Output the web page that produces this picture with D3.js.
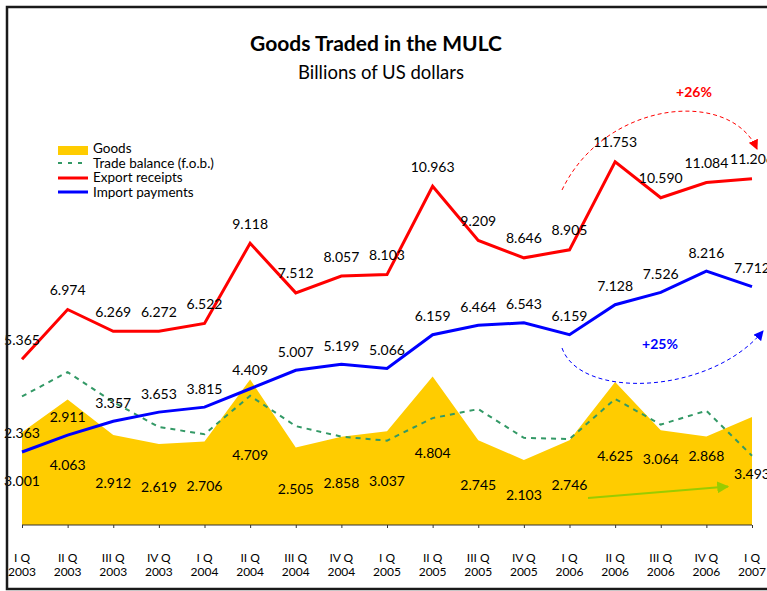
<!DOCTYPE html>
<html>
<head>
<meta charset="utf-8">
<script src="https://cdn.jsdelivr.net/npm/d3@7"></script>
<style>
    body { margin: 0; background: #fff; }
    svg { display: block; font-family: Lato, "Open Sans", sans-serif; }
    .val { font-size: 14px; fill: #000; text-anchor: middle; dominant-baseline: central; }
    .xlab { font-size: 12px; fill: #000; text-anchor: middle; dominant-baseline: central; }
    .leg { font-size: 13.5px; fill: #000; dominant-baseline: central; }
</style>
</head>
<body>
<svg id="chart" width="767" height="591" viewBox="0 0 767 591"></svg>
<script>
// quarters and years on the x axis
const quarters = ["I Q", "II Q", "III Q", "IV Q", "I Q", "II Q", "III Q", "IV Q",
    "I Q", "II Q", "III Q", "IV Q", "I Q", "II Q", "III Q", "IV Q", "I Q"];
const years = ["2003", "2003", "2003", "2003", "2004", "2004", "2004", "2004",
    "2005", "2005", "2005", "2005", "2006", "2006", "2006", "2006", "2007"];

// series (billions of US dollars)
const exportReceipts = [5.365, 6.974, 6.269, 6.272, 6.522, 9.118, 7.512, 8.057,
    8.103, 10.963, 9.209, 8.646, 8.905, 11.753, 10.590, 11.084, 11.206];
const importPayments = [2.363, 2.911, 3.357, 3.653, 3.815, 4.409, 5.007, 5.199,
    5.066, 6.159, 6.464, 6.543, 6.159, 7.128, 7.526, 8.216, 7.712];
const goods = [3.001, 4.063, 2.912, 2.619, 2.706, 4.709, 2.505, 2.858,
    3.037, 4.804, 2.745, 2.103, 2.746, 4.625, 3.064, 2.868, 3.493];
const tradeBalance = [4.16, 4.95, 3.98, 3.17, 2.94, 4.18, 3.20, 2.86,
    2.73, 3.46, 3.75, 2.82, 2.78, 4.08, 3.25, 3.70, 2.24];

const svg = d3.select("#chart");
const idx = d3.range(quarters.length);

const x = d3.scalePoint().domain(idx).range([22, 752]);
const y = d3.scaleLinear().domain([0, 12]).range([525, 154.2]);

// Goods area
svg.append("path")
    .datum(goods)
    .attr("fill", "#ffcc00")
    .attr("d", d3.area().x((d, i) => x(i)).y0(y(0)).y1(d => y(d)));

// axis
const xAxis = d3.axisBottom(x).tickSize(3).tickFormat("");
const axisG = svg.append("g").attr("transform", "translate(0," + y(0) + ")").call(xAxis);
axisG.select(".domain").attr("stroke", "#333").attr("d", "M" + x(0) + ",0H" + x(idx.length - 1));
axisG.selectAll(".tick line").attr("stroke", "#333");

// x labels
svg.selectAll(".xq").data(quarters).enter().append("text")
    .attr("class", "xlab").attr("x", (d, i) => x(i)).attr("y", 557).text(d => d);
svg.selectAll(".xy").data(years).enter().append("text")
    .attr("class", "xlab").attr("x", (d, i) => x(i)).attr("y", 571).text(d => d);

const line = d3.line().x((d, i) => x(i)).y(d => y(d));

// Trade balance
svg.append("path").datum(tradeBalance)
    .attr("fill", "none").attr("stroke", "#339966").attr("stroke-width", 2)
    .attr("stroke-dasharray", "5,5").attr("d", line);

// Import payments
svg.append("path").datum(importPayments)
    .attr("fill", "none").attr("stroke", "#0000ff").attr("stroke-width", 3)
    .attr("stroke-linejoin", "miter").attr("d", line);

// Export receipts
svg.append("path").datum(exportReceipts)
    .attr("fill", "none").attr("stroke", "#ff0000").attr("stroke-width", 3)
    .attr("d", line);

// value labels
const fmt = d3.format(".3f");
svg.selectAll(".lab-exp").data(exportReceipts).enter().append("text")
    .attr("class", "val").attr("x", (d, i) => x(i)).attr("y", d => y(d) - 20).text(fmt);
svg.selectAll(".lab-imp").data(importPayments).enter().append("text")
    .attr("class", "val").attr("x", (d, i) => x(i)).attr("y", d => y(d) - 19).text(fmt);
// goods labels sit half way up the area, two of them lifted by hand
const goodsLift = { 14: 21, 15: 27 };
svg.selectAll(".lab-goods").data(goods).enter().append("text")
    .attr("class", "val").attr("x", (d, i) => x(i))
    .attr("y", (d, i) => y(d / 2) + 2 - (goodsLift[i] || 0)).text(fmt);

// title
svg.append("text").attr("x", 376).attr("y", 42)
    .attr("text-anchor", "middle").attr("dominant-baseline", "central")
    .style("font-size", "21px").style("font-weight", "bold").text("Goods Traded in the MULC");
svg.append("text").attr("x", 381).attr("y", 72)
    .attr("text-anchor", "middle").attr("dominant-baseline", "central")
    .style("font-size", "18.5px").text("Billions of US dollars");

// legend
const legend = svg.append("g");
legend.append("rect").attr("x", 58).attr("y", 146).attr("width", 30).attr("height", 9).attr("fill", "#ffcc00");
legend.append("line").attr("x1", 58).attr("x2", 88).attr("y1", 163).attr("y2", 163)
    .attr("stroke", "#339966").attr("stroke-width", 2).attr("stroke-dasharray", "4,6");
legend.append("line").attr("x1", 58).attr("x2", 88).attr("y1", 178).attr("y2", 178)
    .attr("stroke", "#ff0000").attr("stroke-width", 3);
legend.append("line").attr("x1", 58).attr("x2", 88).attr("y1", 192).attr("y2", 192)
    .attr("stroke", "#0000ff").attr("stroke-width", 3);
const legNames = ["Goods", "Trade balance (f.o.b.)", "Export receipts", "Import payments"];
const legY = [147.5, 162.5, 177, 191.5];
legend.selectAll("text").data(legNames).enter().append("text")
    .attr("class", "leg").attr("x", 93).attr("y", (d, i) => legY[i]).text(d => d);

// growth annotations
const defs = svg.append("defs");
function arrowMarker(id, color, size) {
    defs.append("marker").attr("id", id)
        .attr("viewBox", "0 0 10 10").attr("refX", 9).attr("refY", 5)
        .attr("markerWidth", size).attr("markerHeight", size)
        .attr("markerUnits", "userSpaceOnUse").attr("orient", "auto")
        .append("path").attr("d", "M0,0L10,5L0,10Z").attr("fill", color);
}
arrowMarker("arr-red", "#ff0000", 10);
arrowMarker("arr-blue", "#0000ff", 10);
arrowMarker("arr-green", "#99cc00", 12);

svg.append("path")
    .attr("d", "M562,190 C605,100 730,88 757,149")
    .attr("fill", "none").attr("stroke", "#ff0000").attr("stroke-width", 1)
    .attr("stroke-dasharray", "4,3").attr("marker-end", "url(#arr-red)");
svg.append("text").attr("x", 694).attr("y", 91)
    .attr("text-anchor", "middle").attr("dominant-baseline", "central")
    .style("font-size", "14px").style("font-weight", "bold").attr("fill", "#ff0000").text("+26%");

svg.append("path")
    .attr("d", "M562,348 C580,400 710,395 763,331")
    .attr("fill", "none").attr("stroke", "#0000ff").attr("stroke-width", 1)
    .attr("stroke-dasharray", "4,3").attr("marker-end", "url(#arr-blue)");
svg.append("text").attr("x", 660).attr("y", 343)
    .attr("text-anchor", "middle").attr("dominant-baseline", "central")
    .style("font-size", "14px").style("font-weight", "bold").attr("fill", "#0000ff").text("+25%");

svg.append("line")
    .attr("x1", 588).attr("y1", 498).attr("x2", 728).attr("y2", 486.5)
    .attr("stroke", "#99cc00").attr("stroke-width", 2).attr("marker-end", "url(#arr-green)");

// frame
svg.append("rect").attr("x", 7).attr("y", 7).attr("width", 800).attr("height", 582)
    .attr("fill", "none").attr("stroke", "#1a1a1a").attr("stroke-width", 2.5);
</script>
</body>
</html>
